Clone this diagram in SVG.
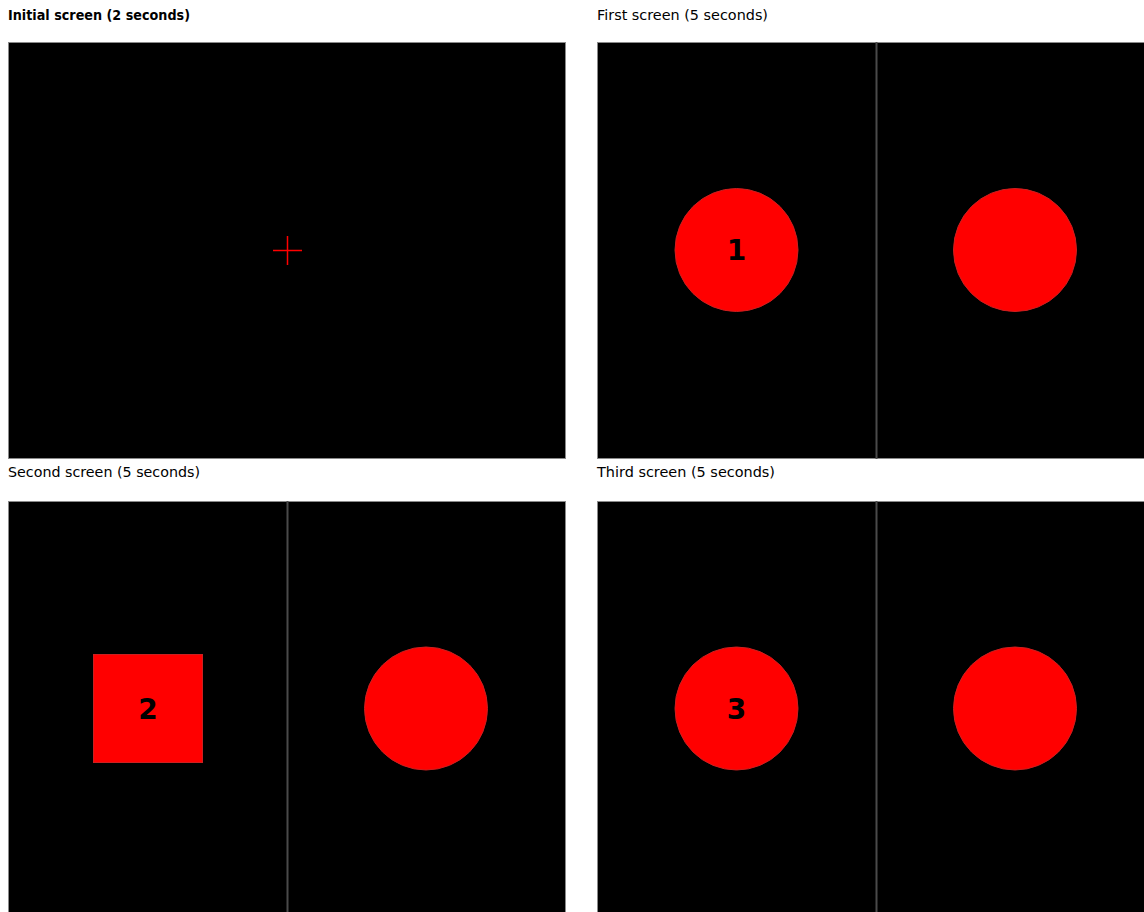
<svg xmlns="http://www.w3.org/2000/svg" width="1144" height="912" viewBox="0 0 1144 912">
<style>
.lbl{font-family:"DejaVu Sans","Liberation Sans",sans-serif;font-size:14px;fill:#000}
.b{font-weight:bold}
.scr{fill:#000;stroke:#8a8a8a;stroke-width:1}
.div{stroke:#4a4a4a;stroke-width:2}
.shape{fill:#ff0000;stroke:#cc2020;stroke-width:1}
.num{font-family:"DejaVu Sans","Liberation Sans",sans-serif;font-size:28px;font-weight:bold;fill:#000;text-anchor:middle}
</style>
<rect width="1144" height="912" fill="#fff"/>
<g id="initial">
<text class="lbl b" x="8" y="20" textLength="182" lengthAdjust="spacingAndGlyphs">Initial screen (2 seconds)</text>
<rect class="scr" x="8.5" y="42.5" width="557" height="416"/>
<path d="M273 250.5H302M287.5 236V265" stroke="#ff0000" stroke-width="1.5"/>
</g>
<g id="first">
<text class="lbl" x="597" y="20" textLength="171" lengthAdjust="spacingAndGlyphs">First screen (5 seconds)</text>
<rect class="scr" x="597.5" y="42.5" width="560" height="416"/>
<line class="div" x1="876.5" y1="42" x2="876.5" y2="459"/>
<circle class="shape" cx="736.5" cy="250" r="61.5"/>
<text class="num" x="736.5" y="260">1</text>
<circle class="shape" cx="1015" cy="250" r="61.5"/>
</g>
<g id="second">
<text class="lbl" x="8" y="477" textLength="192" lengthAdjust="spacingAndGlyphs">Second screen (5 seconds)</text>
<rect class="scr" x="8.5" y="501.5" width="557" height="420"/>
<line class="div" x1="287.5" y1="501" x2="287.5" y2="912"/>
<rect class="shape" x="93.5" y="654.5" width="109" height="108"/>
<text class="num" x="148" y="719">2</text>
<circle class="shape" cx="426" cy="708.5" r="61.5"/>
</g>
<g id="third">
<text class="lbl" x="597" y="477" textLength="178" lengthAdjust="spacingAndGlyphs">Third screen (5 seconds)</text>
<rect class="scr" x="597.5" y="501.5" width="560" height="420"/>
<line class="div" x1="876.5" y1="501" x2="876.5" y2="912"/>
<circle class="shape" cx="736.5" cy="708.5" r="61.5"/>
<text class="num" x="736.5" y="719">3</text>
<circle class="shape" cx="1015" cy="708.5" r="61.5"/>
</g>
<g id="connectors"/>
</svg>
